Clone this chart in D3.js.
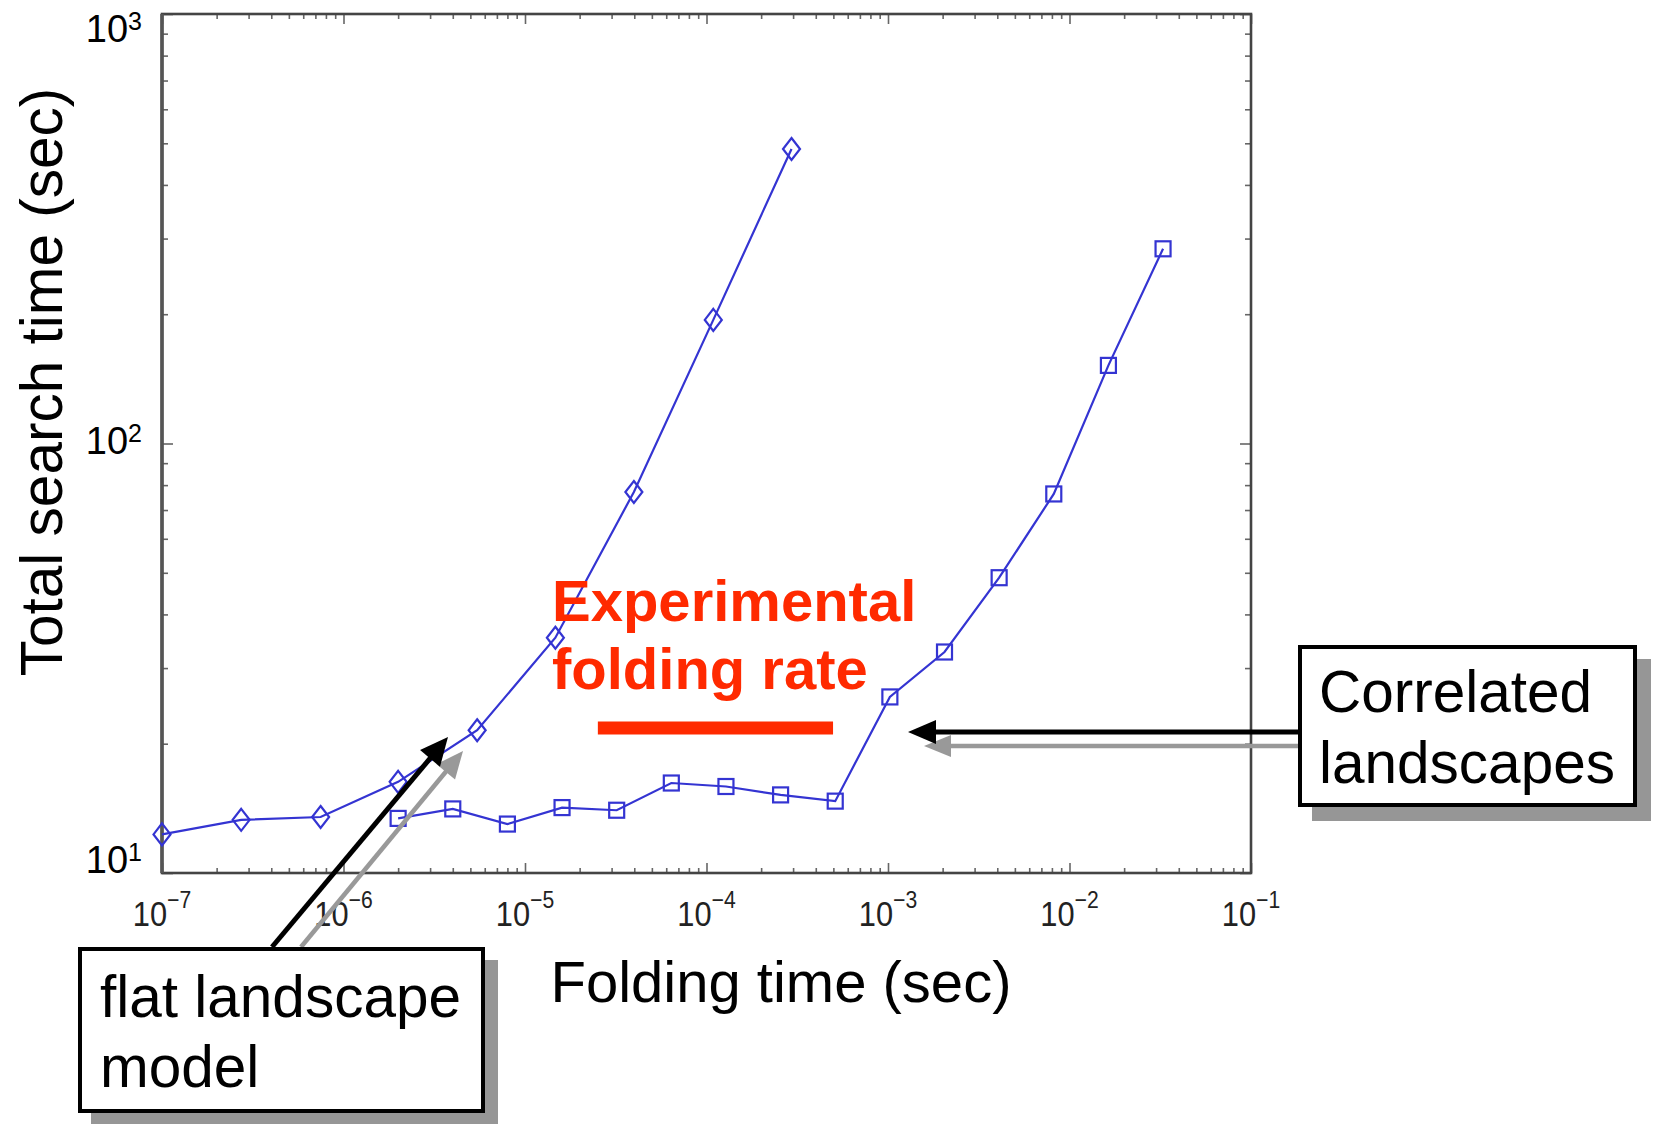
<!DOCTYPE html>
<html><head><meta charset="utf-8">
<script src="https://cdn.jsdelivr.net/npm/d3@7"></script>
<style>
html,body{margin:0;padding:0;background:#fff;}
svg{display:block;font-family:"Liberation Sans",Arial,Helvetica,sans-serif;}
</style>
</head><body>
<svg id="chart" width="1659" height="1124"></svg>
<script>
// ---- data ----
const flatX = [1.0e-7, 2.73e-7, 7.48e-7, 2.0e-6, 5.45e-6, 1.47e-5, 3.98e-5, 1.09e-4, 2.94e-4];
const flatY = [12.3, 13.3, 13.5, 16.3, 21.5, 35.3, 77.1, 194, 485];
const corrX = [2e-6, 4e-6, 8e-6, 1.6e-5, 3.2e-5, 6.4e-5, 1.28e-4, 2.56e-4, 5.12e-4,
               1.024e-3, 2.048e-3, 4.096e-3, 8.192e-3, 1.6384e-2, 3.2768e-2];
const corrY = [13.4, 14.1, 13.0, 14.2, 14.0, 16.2, 15.9, 15.2, 14.7,
               25.7, 32.7, 48.7, 76.3, 152, 284];
const xTickExps = [-7, -6, -5, -4, -3, -2, -1];
const yTickExps = [1, 2, 3];
const expRangeX = [2.52e-5, 4.98e-4];
const expRangeY = 21.75;
const xTitle = "Folding time (sec)";
const yTitle = "Total search time (sec)";
const expLines = ["Experimental", "folding rate"];
const corrLines = ["Correlated", "landscapes"];
const flatLines = ["flat landscape", "model"];

// ---- layout ----
const W = 1659, H = 1124;
const plot = {left: 162, top: 14, right: 1251, bottom: 873};
const blue = "#3434d2";
const svg = d3.select("#chart");
svg.append("rect").attr("width", W).attr("height", H).attr("fill", "#fff");

const x = d3.scaleLog().domain([1e-7, 1e-1]).range([plot.left, plot.right]);
const y = d3.scaleLog().domain([10, 1000]).range([plot.bottom, plot.top]);

function minors(lo, hi) {
  const out = [];
  for (let e = lo; e < hi; e++) for (let m = 2; m <= 9; m++) out.push(m * Math.pow(10, e));
  return out;
}
const xMajor = xTickExps.map(e => Math.pow(10, e));
const yMajor = yTickExps.map(e => Math.pow(10, e));
const xMinor = minors(-7, -1);
const yMinor = minors(1, 3);

const tickCol = "#666";
const gAx = svg.append("g");
gAx.append("g").attr("transform", `translate(0,${plot.bottom})`)
  .call(d3.axisTop(x).tickValues(xMinor).tickSize(5).tickFormat(""));
gAx.append("g").attr("transform", `translate(0,${plot.bottom})`)
  .call(d3.axisTop(x).tickValues(xMajor).tickSize(10).tickFormat(""));
gAx.append("g").attr("transform", `translate(0,${plot.top})`)
  .call(d3.axisBottom(x).tickValues(xMinor).tickSize(5).tickFormat(""));
gAx.append("g").attr("transform", `translate(0,${plot.top})`)
  .call(d3.axisBottom(x).tickValues(xMajor).tickSize(10).tickFormat(""));
gAx.append("g").attr("transform", `translate(${plot.left},0)`)
  .call(d3.axisRight(y).tickValues(yMinor).tickSize(6).tickFormat(""));
gAx.append("g").attr("transform", `translate(${plot.left},0)`)
  .call(d3.axisRight(y).tickValues(yMajor).tickSize(11).tickFormat(""));
gAx.append("g").attr("transform", `translate(${plot.right},0)`)
  .call(d3.axisLeft(y).tickValues(yMinor).tickSize(6).tickFormat(""));
gAx.append("g").attr("transform", `translate(${plot.right},0)`)
  .call(d3.axisLeft(y).tickValues(yMajor).tickSize(11).tickFormat(""));
gAx.selectAll(".domain").remove();
gAx.selectAll(".tick line").attr("stroke", tickCol).attr("stroke-width", 1.6);

// frame
svg.append("rect").attr("x", plot.left).attr("y", plot.top)
  .attr("width", plot.right - plot.left).attr("height", plot.bottom - plot.top)
  .attr("fill", "none").attr("stroke", "#444").attr("stroke-width", 2.6);
svg.append("line").attr("x1", plot.left).attr("x2", plot.left)
  .attr("y1", plot.top).attr("y2", plot.bottom).attr("stroke", "#555").attr("stroke-width", 3.6);

// y tick labels
const yLabOffset = {1: 0, 2: 10, 3: 28};
yTickExps.forEach(e => {
  const t = svg.append("text").attr("x", 142).attr("y", y(Math.pow(10, e)) + yLabOffset[e])
    .attr("text-anchor", "end").attr("font-size", 38).attr("fill", "#000");
  t.append("tspan").text("10");
  t.append("tspan").attr("font-size", 25).attr("dy", -12).text(String(e));
});
// x tick labels (slightly condensed)
xTickExps.forEach(e => {
  const t = svg.append("text")
    .attr("transform", `translate(${x(Math.pow(10, e))},926) scale(0.88,1)`)
    .attr("text-anchor", "middle").attr("font-size", 35).attr("fill", "#222");
  t.append("tspan").text("10");
  t.append("tspan").attr("font-size", 24).attr("dy", -18).text("\u2212" + Math.abs(e));
});

// axis titles
svg.append("text").attr("x", 781).attr("y", 1002).attr("text-anchor", "middle")
  .attr("font-size", 58).attr("fill", "#000").text(xTitle);
svg.append("text").attr("transform", "translate(62,382) rotate(-90)")
  .attr("text-anchor", "middle").attr("font-size", 58.5).attr("fill", "#000").text(yTitle);

// data lines & markers
const line = d3.line().x(d => x(d[0])).y(d => y(d[1]));
const flat = flatX.map((v, i) => [v, flatY[i]]);
const corr = corrX.map((v, i) => [v, corrY[i]]);
[flat, corr].forEach(s => svg.append("path").datum(s).attr("d", line)
  .attr("fill", "none").attr("stroke", blue).attr("stroke-width", 2.2));
svg.append("g").selectAll("path").data(flat).join("path")
  .attr("d", d => { const cx = x(d[0]), cy = y(d[1]);
    return `M${cx},${cy-11}L${cx+8.5},${cy}L${cx},${cy+11}L${cx-8.5},${cy}Z`; })
  .attr("fill", "none").attr("stroke", blue).attr("stroke-width", 2.2);
svg.append("g").selectAll("rect").data(corr).join("rect")
  .attr("x", d => x(d[0]) - 7.5).attr("y", d => y(d[1]) - 7.5)
  .attr("width", 15).attr("height", 15)
  .attr("fill", "none").attr("stroke", blue).attr("stroke-width", 2.2);

// experimental folding rate
const red = "#ff2a00";
expLines.forEach((s, i) => svg.append("text").attr("x", 552).attr("y", 621 + i * 68)
  .attr("font-size", 58).attr("font-weight", "bold").attr("fill", red).text(s));
svg.append("line").attr("x1", x(expRangeX[0])).attr("x2", x(expRangeX[1]))
  .attr("y1", y(expRangeY)).attr("y2", y(expRangeY))
  .attr("stroke", red).attr("stroke-width", 13);

// arrows
function arrow(x1, y1, x2, y2, col, w, hl, hw) {
  const dx = x2 - x1, dy = y2 - y1, L = Math.hypot(dx, dy);
  const ux = dx / L, uy = dy / L, px = -uy, py = ux;
  const bx = x2 - ux * hl, by = y2 - uy * hl;
  svg.append("line").attr("x1", x1).attr("y1", y1).attr("x2", bx + ux * 2).attr("y2", by + uy * 2)
    .attr("stroke", col).attr("stroke-width", w);
  svg.append("path").attr("d", `M${x2},${y2}L${bx + px * hw},${by + py * hw}L${bx - px * hw},${by - py * hw}Z`)
    .attr("fill", col);
}
arrow(301, 947, 463, 751, "#999", 4.5, 27, 12);
arrow(272, 947, 448, 737, "#000", 5, 28, 13);
arrow(1298, 746, 924, 746, "#999", 4.5, 27, 11);
arrow(1298, 732, 908, 732, "#000", 5, 28, 12);

// boxes
function box(bx, by, bw, bh, off, lines, tx, ty, lh) {
  svg.append("rect").attr("x", bx + off).attr("y", by + off).attr("width", bw).attr("height", bh)
    .attr("fill", "#969696").attr("stroke", "#969696").attr("stroke-width", 4);
  svg.append("rect").attr("x", bx).attr("y", by).attr("width", bw).attr("height", bh)
    .attr("fill", "#fff").attr("stroke", "#000").attr("stroke-width", 4);
  lines.forEach((s, i) => svg.append("text").attr("x", tx).attr("y", ty + i * lh)
    .attr("font-size", 58.5).attr("fill", "#000").text(s));
}
box(1300, 647, 335, 158, 14, corrLines, 1319, 712, 71);
box(80, 949, 403, 162, 13, flatLines, 100, 1017, 70);
</script>
</body></html>
